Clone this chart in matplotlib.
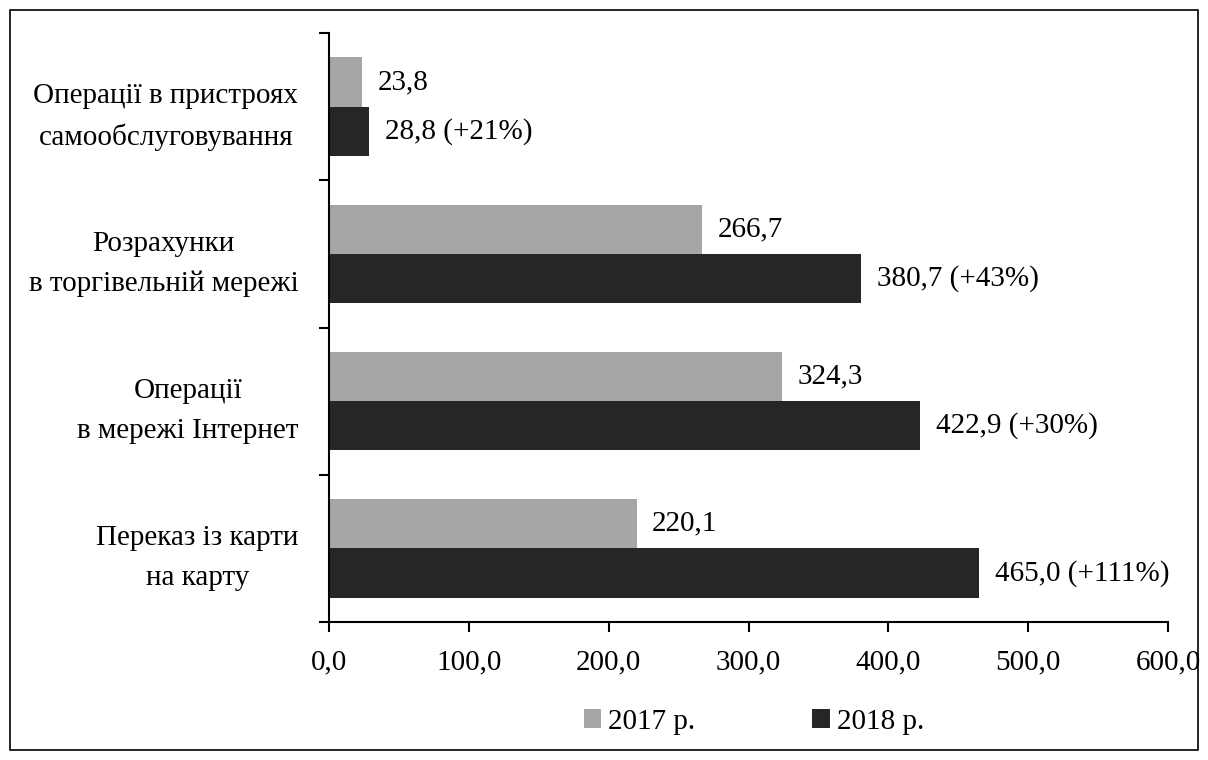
import matplotlib.pyplot as plt
from matplotlib.patches import Rectangle

categories = ['Операції в пристроях\nсамообслуговування',
              'Розрахунки\nв торгівельній мережі',
              'Операції\nв мережі Інтернет',
              'Переказ із карти\nна карту']
v2017 = [23.8, 266.7, 324.3, 220.1]
v2018 = [28.8, 380.7, 422.9, 465.0]
growth = ['+21%', '+43%', '+30%', '+111%']
xticks = [0, 100, 200, 300, 400, 500, 600]

plt.rcParams['font.family'] = ['Liberation Serif', 'DejaVu Serif']
plt.rcParams['font.size'] = 21

fig = plt.figure(figsize=(12.08, 7.6), dpi=100)
fig.patches.append(Rectangle((10 / 1208, 10 / 760), 1188 / 1208, 740 / 760,
                             transform=fig.transFigure, fill=False,
                             edgecolor='black', linewidth=1.2))
ax = fig.add_axes([329 / 1208, 1 - 622 / 760, 839 / 1208, 589 / 760])

n = len(categories)
pos = [n - 1 - i for i in range(n)]
h = 0.335
c17 = '#a6a6a6'
c18 = '#262626'
ax.barh([p + h / 2 for p in pos], v2017, height=h, color=c17, label='2017 р.')
ax.barh([p - h / 2 for p in pos], v2018, height=h, color=c18, label='2018 р.')

fmt = lambda v: f'{v:.1f}'.replace('.', ',')
for p, a, b, g in zip(pos, v2017, v2018, growth):
    ax.text(a + 11, p + h / 2, fmt(a), va='center', ha='left')
    ax.text(b + 11, p - h / 2, f'{fmt(b)} ({g})', va='center', ha='left')

ax.set_xlim(0, 600)
ax.set_ylim(-0.5, n - 0.5)
ax.set_xticks(xticks)
ax.set_xticklabels([fmt(x) for x in xticks])
ax.set_yticks(pos)
ax.set_yticklabels(categories, multialignment='center', linespacing=1.7)
ax.set_yticks([i - 0.5 for i in range(n + 1)], minor=True)
ax.tick_params(axis='y', which='major', length=0, pad=22)
ax.tick_params(axis='y', which='minor', length=7, width=1.5, direction='out')
ax.tick_params(axis='x', length=7, width=1.5, direction='out', pad=13)
for s in ['top', 'right']:
    ax.spines[s].set_visible(False)
for s in ['left', 'bottom']:
    ax.spines[s].set_linewidth(1.5)

fig.legend(loc='center', bbox_to_anchor=(754 / 1208, 1 - 722 / 760), ncol=2,
           frameon=False, handlelength=0.6, handleheight=0.6,
           handletextpad=0.25, columnspacing=4)

plt.savefig('out.png', dpi=100)
